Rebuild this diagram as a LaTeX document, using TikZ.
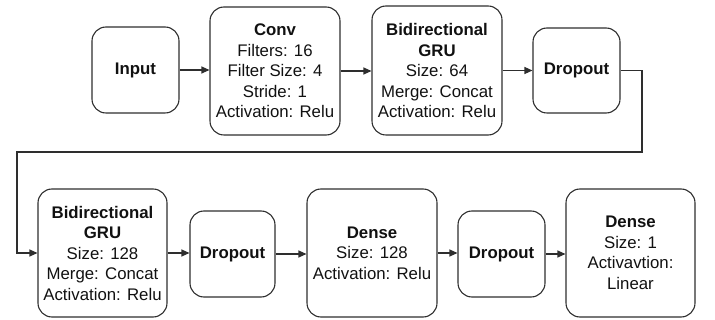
\documentclass[tikz,border=0pt]{standalone}
\usepackage{fontspec}
\setmainfont{Liberation Sans}
\usetikzlibrary{arrows.meta}
\definecolor{edge}{HTML}{2E2E2E}
\definecolor{txt}{HTML}{111111}
\tikzset{
  blk/.style={draw=edge, line width=1.1pt, rounded corners=14pt, align=center,
    inner sep=0pt, text=txt, font=\fontsize{16.8}{20.5}\selectfont},
  arr/.style={draw=edge, line width=1.1pt, -{Triangle[length=8pt,width=7pt]}}
}
\begin{document}
\begin{tikzpicture}[x=1pt,y=1pt]
\useasboundingbox (0,0) rectangle (715,-320);
% top row
\node[blk, minimum width=87pt, minimum height=86pt] (in) at (135.5,-70) {\textbf{Input}};
\node[blk, minimum width=130pt, minimum height=128pt] (conv) at (275,-71) {\textbf{Conv}\\Filters: 16\\Filter Size: 4\\Stride: 1\\Activation: Relu};
\node[blk, minimum width=130pt, minimum height=129pt] (gru1) at (437,-70.5) {\textbf{Bidirectional}\\\textbf{GRU}\\Size: 64\\Merge: Concat\\Activation: Relu};
\node[blk, minimum width=87pt, minimum height=85pt] (d1) at (576.5,-70.5) {\textbf{Dropout}};
% bottom row
\node[blk, minimum width=129pt, minimum height=128pt] (gru2) at (102.5,-253) {\textbf{Bidirectional}\\\textbf{GRU}\\Size: 128\\Merge: Concat\\Activation: Relu};
\node[blk, minimum width=85pt, minimum height=86pt] (d2) at (232.5,-254) {\textbf{Dropout}};
\node[blk, minimum width=130pt, minimum height=128pt] (den1) at (372,-253) {\textbf{Dense}\\Size: 128\\Activation: Relu};
\node[blk, minimum width=87pt, minimum height=86pt] (d3) at (501.5,-254) {\textbf{Dropout}};
\node[blk, minimum width=129pt, minimum height=128pt] (den2) at (630.5,-253) {\textbf{Dense}\\Size: 1\\Activavtion:\\Linear};
% connectors
\draw[arr] (in.east) -- (in.east -| conv.west);
\draw[arr] (conv.east) -- (conv.east -| gru1.west);
\draw[arr] (gru1.east) -- (gru1.east -| d1.west);
\coordinate (t1) at (642,-152);
\coordinate (t2) at (17,-152);
\draw[arr] (d1.east) -| (t1) -- (t2) |- (gru2.west);
\draw[arr] (gru2.east) -- (gru2.east -| d2.west);
\draw[arr] (d2.east) -- (d2.east -| den1.west);
\draw[arr] (den1.east) -- (den1.east -| d3.west);
\draw[arr] (d3.east) -- (d3.east -| den2.west);
\end{tikzpicture}
\end{document}
